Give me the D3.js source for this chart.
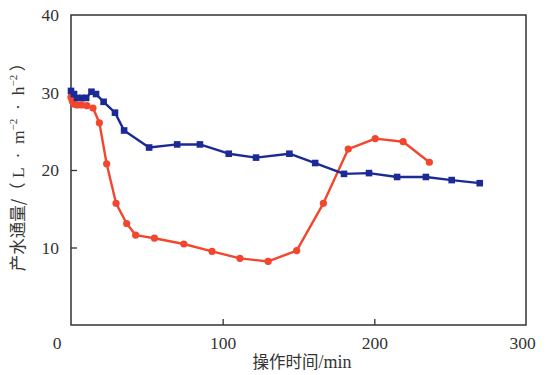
<!DOCTYPE html>
<html>
<head>
<meta charset="utf-8">
<script src="https://cdn.jsdelivr.net/npm/d3@7/dist/d3.min.js"></script>
<style>
  html, body { margin: 0; padding: 0; background: #fff; }
  svg { display: block; }
</style>
</head>
<body>
<svg id="chart" width="548" height="375"></svg>
<script>
// Operating time (min) and water flux for the two runs
const blueTime = [0, 2, 4, 7.5, 10, 13.5, 16.5, 21.5, 29, 35, 51.5, 70, 85, 104, 122, 144, 161, 180, 196.5, 215, 234, 251, 269.5];
const blueFlux = [30.2, 29.8, 29.3, 29.3, 29.3, 30.1, 29.8, 28.8, 27.4, 25.1, 22.9, 23.3, 23.3, 22.1, 21.6, 22.1, 20.9, 19.5, 19.6, 19.1, 19.1, 18.7, 18.3];

const redTime = [0, 0.8, 2, 4, 7, 10.5, 14.5, 18.7, 23.5, 29.7, 36.7, 42.6, 55, 74.4, 93, 111.4, 130, 148.8, 166.4, 182.8, 200.6, 219, 236.3];
const redFlux = [29.4, 28.9, 28.5, 28.4, 28.4, 28.3, 28.0, 26.1, 20.8, 15.7, 13.1, 11.6, 11.2, 10.45, 9.5, 8.6, 8.2, 9.6, 15.7, 22.7, 24.05, 23.65, 21.0];

const xTicks = [100, 200, 300];
const yTicks = [10, 20, 30, 40];

const svg = d3.select("#chart");
const plotLeft = 71, plotRight = 526, plotTop = 15, plotBottom = 325;

const x = d3.scaleLinear().domain([0, 300]).range([plotLeft, plotRight]);
const y = d3.scaleLinear().domain([0, 40]).range([plotBottom, plotTop]);

const serif = "'Liberation Serif', 'DejaVu Serif', serif";
const cjk = "'Noto Sans CJK SC', sans-serif";
const frameColor = "#333";
const sp = "\u00a0";

// plot frame
svg.append("rect")
  .attr("x", plotLeft).attr("y", plotTop)
  .attr("width", plotRight - plotLeft).attr("height", plotBottom - plotTop)
  .attr("fill", "none").attr("stroke", frameColor).attr("stroke-width", 1.5);

// inward ticks on the bottom axis
const xAxis = d3.axisBottom(x).tickValues(xTicks).tickSize(-6).tickPadding(12)
  .tickFormat(d3.format("d"));
const gx = svg.append("g").attr("transform", `translate(0,${plotBottom})`).call(xAxis);
gx.select(".domain").remove();
gx.selectAll(".tick line").attr("stroke", frameColor).attr("stroke-width", 1.3);
gx.selectAll(".tick").filter(d => d === 300).select("line").remove();
gx.selectAll("text").attr("font-family", serif).attr("font-size", 17.5).attr("fill", "#333");
gx.selectAll(".tick").filter(d => d === 300).select("text").attr("dx", -4);

// inward ticks on the left axis
const yAxis = d3.axisLeft(y).tickValues(yTicks).tickSize(-6).tickPadding(12)
  .tickFormat(d3.format("d"));
const gy = svg.append("g").attr("transform", `translate(${plotLeft},0)`).call(yAxis);
gy.select(".domain").remove();
gy.selectAll(".tick line").attr("stroke", frameColor).attr("stroke-width", 1.3);
gy.selectAll(".tick").filter(d => d === 40).select("line").remove();
gy.selectAll("text").attr("font-family", serif).attr("font-size", 17.5).attr("fill", "#333");

// shared origin label
svg.append("text")
  .attr("x", x(0) - 14).attr("y", plotBottom + 24)
  .attr("text-anchor", "middle")
  .attr("font-family", serif).attr("font-size", 17.5).attr("fill", "#333")
  .text("0");

// axis titles
const xt = svg.append("text")
  .attr("x", 302).attr("y", 368)
  .attr("text-anchor", "middle")
  .attr("fill", "#333").attr("font-size", 16.5);
xt.append("tspan").attr("font-family", cjk).text("操作时间");
xt.append("tspan").attr("font-family", serif).attr("font-size", 18).text("/min");

const yt = svg.append("text")
  .attr("transform", "translate(24,163) rotate(-90)")
  .attr("text-anchor", "middle")
  .attr("fill", "#333").attr("font-size", 16.5);
yt.append("tspan").attr("font-family", cjk).text("产水通量/（");
yt.append("tspan").attr("font-family", serif).attr("font-size", 17.5).text(`${sp}L${sp}${sp}·${sp}${sp}m`);
yt.append("tspan").attr("font-family", serif).attr("font-size", 11).attr("dy", -7).text("−2");
yt.append("tspan").attr("font-family", serif).attr("font-size", 17.5).attr("dy", 7).text(`${sp}${sp}·${sp}${sp}h`);
yt.append("tspan").attr("font-family", serif).attr("font-size", 11).attr("dy", -7).text("−2");
yt.append("tspan").attr("font-family", cjk).attr("dy", 7).text(`${sp}）`);

const line = d3.line().x(d => x(d[0])).y(d => y(d[1]));

// red run: circles
const redPts = redTime.map((t, i) => [t, redFlux[i]]);
const redColor = "#f2472e";
svg.append("path").datum(redPts)
  .attr("d", line).attr("fill", "none")
  .attr("stroke", redColor).attr("stroke-width", 2.4).attr("stroke-linejoin", "round");
svg.append("g").selectAll("circle").data(redPts).join("circle")
  .attr("cx", d => x(d[0])).attr("cy", d => y(d[1])).attr("r", 3.6)
  .attr("fill", redColor);

// blue run: squares
const bluePts = blueTime.map((t, i) => [t, blueFlux[i]]);
const blueColor = "#1c2a96";
svg.append("path").datum(bluePts)
  .attr("d", line).attr("fill", "none")
  .attr("stroke", blueColor).attr("stroke-width", 2.4).attr("stroke-linejoin", "round");
svg.append("g").selectAll("rect").data(bluePts).join("rect")
  .attr("x", d => x(d[0]) - 3.3).attr("y", d => y(d[1]) - 3.3)
  .attr("width", 6.6).attr("height", 6.6)
  .attr("fill", blueColor);
</script>
</body>
</html>
